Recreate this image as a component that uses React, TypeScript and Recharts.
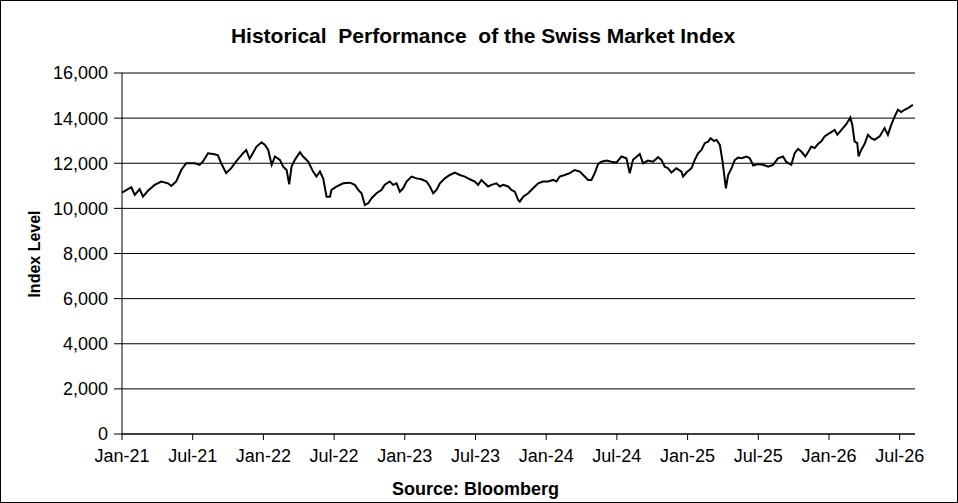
import { CartesianGrid, Line, LineChart, XAxis, YAxis } from "recharts";

// months elapsed since Jan-21
const months = [
  0, 0.79, 1.08, 1.5, 1.78, 2.2, 2.77, 3.33, 3.9, 4.18, 4.6, 5.03, 5.45, 6.17, 6.59, 6.87,
  7.3, 7.86, 8.14, 8.42, 8.84, 9.27, 9.69, 10.26, 10.54, 10.83, 11.14, 11.42, 11.85, 12.13,
  12.41, 12.7, 12.98, 13.4, 13.68, 13.97, 14.19, 14.39, 14.67, 15.1, 15.37, 15.8, 16.22,
  16.5, 16.8, 17.07, 17.36, 17.65, 17.78, 18.2, 18.77, 19.34, 19.76, 20.05, 20.33, 20.61,
  20.9, 21.18, 21.6, 22.03, 22.3, 22.73, 23.01, 23.3, 23.58, 23.86, 24.15, 24.57, 25.0,
  25.42, 25.85, 26.13, 26.41, 26.69, 26.98, 27.4, 27.82, 28.25, 28.67, 29.1, 29.52, 29.94,
  30.22, 30.51, 30.79, 31.07, 31.36, 31.78, 32.06, 32.35, 32.77, 33.05, 33.34, 33.62,
  33.76, 34.05, 34.47, 34.89, 35.32, 35.74, 36.16, 36.59, 36.87, 37.15, 37.58, 38.0,
  38.42, 38.85, 39.27, 39.55, 39.84, 40.12, 40.41, 40.69, 41.11, 41.54, 41.96, 42.39,
  42.81, 43.09, 43.37, 43.94, 44.22, 44.64, 45.07, 45.49, 45.78, 46.06, 46.34, 46.63,
  47.05, 47.48, 47.62, 47.9, 48.33, 48.61, 48.89, 49.18, 49.46, 49.74, 49.95, 50.23,
  50.46, 50.74, 50.97, 51.16, 51.25, 51.44, 51.73, 52.01, 52.29, 52.58, 53.0, 53.28,
  53.57, 53.99, 54.41, 54.84, 55.26, 55.67, 56.1, 56.38, 56.8, 57.09, 57.37, 57.65, 57.99,
  58.22, 58.5, 58.78, 59.07, 59.35, 59.63, 59.92, 60.2, 60.48, 60.71, 60.9, 61.18, 61.47,
  61.81, 61.98, 62.17, 62.4, 62.51, 62.74, 63.02, 63.3, 63.59, 63.87, 64.3, 64.72, 65.0,
  65.28, 65.57, 65.85, 66.13, 66.41, 66.7, 66.92, 67.12,
];

const smiLevels = [
  10700, 10940, 10600, 10850, 10520, 10780, 11040, 11190, 11110, 10990, 11190, 11700, 12000,
  12000, 11930, 12080, 12440, 12400, 12350, 12000, 11560, 11780, 12080, 12440, 12590, 12200,
  12480, 12740, 12930, 12810, 12590, 11930, 12300, 12150, 11850, 11700, 11070, 11850, 12150,
  12490, 12300, 12070, 11630, 11410, 11630, 11330, 10520, 10520, 10820, 10960, 11110, 11140,
  11040, 10820, 10670, 10150, 10230, 10450, 10670, 10820, 11050, 11190, 11040, 11110, 10740,
  10890, 11190, 11410, 11330, 11290, 11190, 10970, 10670, 10820, 11110, 11330, 11480, 11590,
  11480, 11410, 11290, 11190, 11040, 11260, 11110, 10970, 11040, 11110, 10970, 11040, 10970,
  10820, 10740, 10370, 10300, 10520, 10670, 10890, 11110, 11190, 11190, 11260, 11190, 11410,
  11480, 11560, 11700, 11630, 11410, 11260, 11260, 11560, 11970, 12070, 12120, 12070, 12030,
  12300, 12220, 11560, 12150, 12410, 12000, 12120, 12070, 12270, 12150, 11850, 11780, 11590,
  11780, 11630, 11410, 11590, 11780, 12150, 12440, 12590, 12890, 12960, 13110, 12990, 13030,
  12810, 12070, 11260, 10890, 11480, 11780, 12150, 12250, 12220, 12300, 12220, 11900, 11960,
  11930, 11850, 11930, 12220, 12300, 12060, 11930, 12450, 12640, 12520, 12300, 12490, 12740,
  12670, 12850, 12970, 13190, 13290, 13380, 13480, 13260, 13380, 13560, 13730, 14030, 13700,
  12970, 12890, 12300, 12600, 12850, 13260, 13110, 13040, 13190, 13560, 13260, 13700, 14070,
  14370, 14270, 14370, 14440, 14520, 14590,
];

const tickMonths = [0, 6, 12, 18, 24, 30, 36, 42, 48, 54, 60, 66];
const tickLabels = [
  "Jan-21", "Jul-21", "Jan-22", "Jul-22", "Jan-23", "Jul-23",
  "Jan-24", "Jul-24", "Jan-25", "Jul-25", "Jan-26", "Jul-26",
];
const levelTicks = [0, 2000, 4000, 6000, 8000, 10000, 12000, 14000, 16000];

const data = months.map((m, i) => ({ m, smi: smiLevels[i] }));

const font = "'Liberation Sans', Arial, sans-serif";

export default function App() {
  const tickStyle = { fontSize: 18, fill: "#000", fontFamily: font };
  return (
    <div
      style={{
        position: "absolute",
        left: 0,
        top: 0,
        width: 958,
        height: 503,
        background: "#fff",
        fontFamily: font,
      }}
    >
      <LineChart
        width={958}
        height={503}
        data={data}
        margin={{ top: 73, right: 43, bottom: 0, left: 0 }}
      >
        <CartesianGrid vertical={false} stroke="#000" strokeWidth={1} />
        <XAxis
          dataKey="m"
          type="number"
          domain={[0, 67.3]}
          ticks={tickMonths}
          tickFormatter={(v) => tickLabels[tickMonths.indexOf(v)] ?? ""}
          tick={tickStyle}
          tickSize={6}
          tickMargin={9}
          height={69}
          stroke="#000"
          interval={0}
        />
        <YAxis
          type="number"
          domain={[0, 16000]}
          ticks={levelTicks}
          tickFormatter={(v) => v.toLocaleString("en-US")}
          tick={tickStyle}
          tickSize={8}
          tickMargin={6}
          width={122}
          stroke="#000"
          interval={0}
        />
        <Line
          dataKey="smi"
          type="linear"
          stroke="#000"
          strokeWidth={2}
          dot={false}
          isAnimationActive={false}
        />
      </LineChart>

      <div
        style={{
          position: "absolute",
          left: 0,
          top: 25,
          width: 966,
          textAlign: "center",
          fontSize: 21,
          lineHeight: "21px",
          fontWeight: "bold",
          whiteSpace: "pre",
        }}
      >
        {"Historical  Performance  of the Swiss Market Index"}
      </div>

      <div
        style={{
          position: "absolute",
          left: 35,
          top: 254,
          transform: "translate(-50%, -50%) rotate(-90deg)",
          fontSize: 16,
          lineHeight: "16px",
          fontWeight: "bold",
          whiteSpace: "nowrap",
        }}
      >
        Index Level
      </div>

      <div
        style={{
          position: "absolute",
          left: 0,
          top: 480,
          width: 951,
          textAlign: "center",
          fontSize: 18,
          lineHeight: "18px",
          fontWeight: "bold",
        }}
      >
        Source: Bloomberg
      </div>

      <div
        style={{
          position: "absolute",
          inset: 0,
          border: "1px solid #000",
          boxSizing: "border-box",
          pointerEvents: "none",
        }}
      />
    </div>
  );
}
